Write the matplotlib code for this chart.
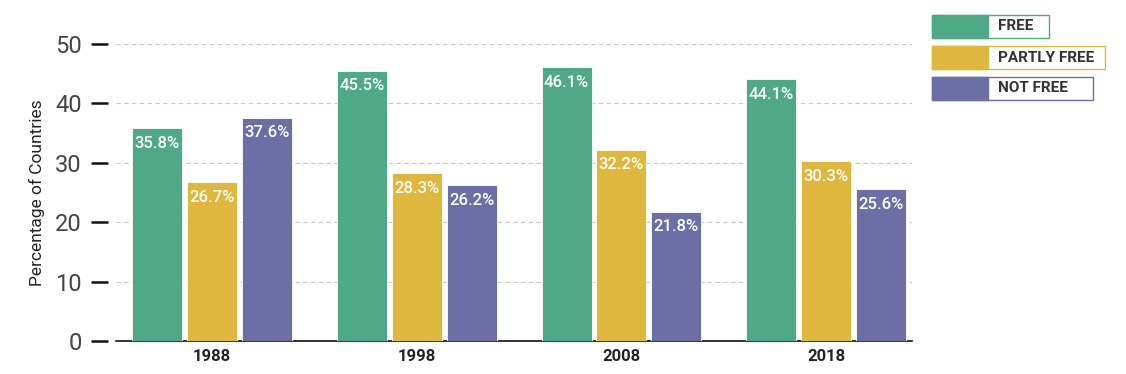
import numpy as np
import matplotlib.pyplot as plt
from matplotlib.patches import Rectangle

plt.rcParams['font.family'] = ['Roboto', 'DejaVu Sans']

years = ['1988', '1998', '2008', '2018']
free = [35.8, 45.5, 46.1, 44.1]
partly_free = [26.7, 28.3, 32.2, 30.3]
not_free = [37.6, 26.2, 21.8, 25.6]
series_names = ['FREE', 'PARTLY FREE', 'NOT FREE']
colors = ['#4FA987', '#E0B73E', '#6B6FA6']

fig = plt.figure(figsize=(11.26, 3.74), dpi=100)
ax = fig.add_axes([116 / 1126, 1 - 341 / 374, (912 - 116) / 1126, (341 - 44) / 374])

x = np.arange(len(years))
w = 0.245
step = 0.268
for i, (vals, c) in enumerate(zip([free, partly_free, not_free], colors)):
    bars = ax.bar(x + (i - 1) * step, vals, w, color=c, zorder=3,
                  edgecolor='#ffffff', linewidth=0.6)
    for b, v in zip(bars, vals):
        ax.text(b.get_x() + b.get_width() / 2, v - 1.3, f'{v}%',
                ha='center', va='top', color='white', fontsize=12,
                fontweight='medium', zorder=4)

ax.set_xlim(-0.47, 3.42)
ax.set_ylim(0, 50)
ax.set_yticks([0, 10, 20, 30, 40, 50])
ax.set_xticks(x)
ax.set_xticklabels(years, fontsize=12, fontweight='bold', color='#222222')
ax.tick_params(axis='x', length=0, pad=6)
ax.spines['left'].set_position(('outward', 6))
ax.tick_params(axis='y', length=12, width=1.8, color='#111111', pad=6.5,
               labelsize=17, labelcolor='#444444', direction='out')
ax.yaxis.grid(True, linestyle=(0, (4, 3)), color='#c8c8c8', linewidth=0.8, zorder=0)
for s in ['top', 'right', 'left']:
    ax.spines[s].set_visible(False)
ax.spines['bottom'].set_color('#111111')
ax.spines['bottom'].set_linewidth(1.2)
ax.set_ylabel('Percentage of Countries', fontsize=12.5, color='#222222')
ax.yaxis.set_label_coords(-0.089, 0.5)

# legend boxes
leg_x0 = 932
widths = [118, 174, 162]
for i, (name, c) in enumerate(zip(series_names, colors)):
    y_top = 15 + i * 31
    h = 23
    fig.patches.append(Rectangle((leg_x0 / 1126, 1 - (y_top + h) / 374),
                                 (widths[i] - 1) / 1126, h / 374,
                                 transform=fig.transFigure, facecolor='white',
                                 edgecolor=c, linewidth=1.0))
    fig.patches.append(Rectangle((leg_x0 / 1126, 1 - (y_top + h) / 374),
                                 56 / 1126, h / 374,
                                 transform=fig.transFigure, facecolor=c,
                                 edgecolor=c, linewidth=1.0))
    fig.text((leg_x0 + 66) / 1126, 1 - (y_top + h / 2) / 374, name,
             ha='left', va='center', fontsize=11, fontweight='bold',
             color='#333333')

fig.savefig('out.png', dpi=100)
